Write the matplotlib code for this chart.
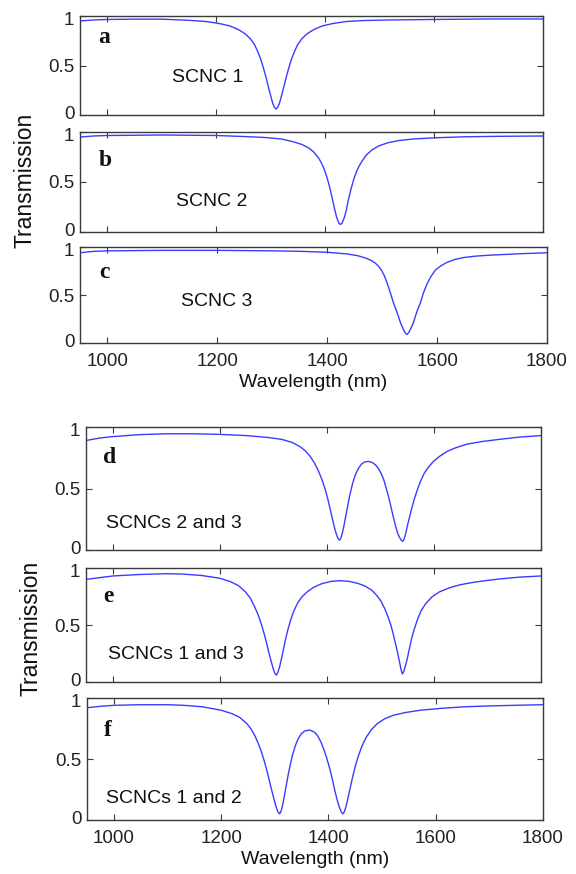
import matplotlib
matplotlib.use("Agg")
import matplotlib.pyplot as plt
from matplotlib.transforms import ScaledTranslation

plt.rcParams['font.family'] = ['Liberation Sans', 'DejaVu Sans']

# ---------------- data ----------------
wl_a = [950, 975, 1000, 1050, 1100, 1145, 1180, 1205, 1225, 1240, 1252, 1262, 1270, 1276, 1282,
        1287, 1292, 1296, 1300, 1304, 1307, 1310, 1313, 1316, 1320, 1324, 1328, 1333, 1338, 1344,
        1350, 1358, 1368, 1380, 1395, 1415, 1440, 1475, 1520, 1600, 1700, 1800]
tr_a = [0.95, 0.96, 0.965, 0.968, 0.968, 0.958, 0.945, 0.925, 0.90, 0.865, 0.825, 0.775, 0.715, 0.645, 0.56,
        0.47, 0.37, 0.28, 0.195, 0.115, 0.078, 0.06, 0.078, 0.115, 0.195, 0.28, 0.37, 0.47, 0.56, 0.645,
        0.715, 0.775, 0.825, 0.865, 0.90, 0.925, 0.945, 0.955, 0.96, 0.965, 0.97, 0.97]

wl_b = [950, 975, 1000, 1100, 1200, 1250, 1290, 1320, 1340, 1358, 1370, 1380, 1388, 1393, 1398,
        1403, 1408, 1413, 1417, 1421, 1425, 1428, 1431, 1435, 1439, 1443, 1448, 1453, 1458, 1463,
        1468, 1476, 1486, 1498, 1516, 1536, 1566, 1606, 1656, 1720, 1800]
tr_b = [0.95, 0.96, 0.965, 0.97, 0.965, 0.955, 0.945, 0.93, 0.905, 0.874, 0.84, 0.795, 0.74, 0.693, 0.632,
        0.554, 0.456, 0.339, 0.24, 0.15, 0.09, 0.075, 0.087, 0.14, 0.22, 0.33, 0.44, 0.535, 0.61, 0.665,
        0.711, 0.771, 0.821, 0.86, 0.894, 0.915, 0.932, 0.943, 0.952, 0.957, 0.96]

wl_c = [950, 975, 1000, 1100, 1200, 1300, 1350, 1400, 1436, 1455, 1470, 1480, 1488, 1494, 1499,
        1504, 1509, 1515, 1521, 1526, 1530, 1534, 1538, 1541, 1543, 1545, 1547, 1549, 1552, 1556,
        1560, 1564, 1569, 1575, 1582, 1589, 1597, 1607, 1618, 1632, 1648, 1670, 1697, 1751, 1800]
tr_c = [0.94, 0.955, 0.96, 0.965, 0.965, 0.96, 0.955, 0.945, 0.928, 0.91, 0.885, 0.86, 0.83, 0.795, 0.755,
        0.70, 0.625, 0.52, 0.41, 0.335, 0.27, 0.20, 0.15, 0.115, 0.10, 0.09, 0.10, 0.115, 0.15, 0.20,
        0.27, 0.34, 0.41, 0.52, 0.62, 0.695, 0.76, 0.805, 0.84, 0.87, 0.89, 0.905, 0.915, 0.93, 0.94]

wl_d = [950, 975, 1000, 1050, 1100, 1150, 1200, 1250, 1290, 1315, 1335, 1350, 1360, 1369, 1377,
        1384, 1391, 1397, 1402, 1406, 1410, 1414, 1418, 1421, 1423.6, 1426, 1429, 1432, 1435, 1439,
        1443, 1448, 1453, 1459, 1465, 1471, 1477.6, 1484, 1490, 1496, 1501, 1506, 1511, 1516, 1520,
        1524, 1528, 1532, 1536, 1539, 1541.6, 1544, 1547, 1550, 1554, 1558, 1563, 1569, 1575, 1582,
        1590, 1599, 1610, 1624, 1640, 1661, 1690, 1723, 1760, 1800]
tr_d = [0.89, 0.91, 0.922, 0.938, 0.945, 0.945, 0.94, 0.93, 0.915, 0.90, 0.875, 0.84, 0.805, 0.76, 0.705,
        0.645, 0.57, 0.49, 0.41, 0.335, 0.26, 0.185, 0.125, 0.09, 0.08, 0.095, 0.14, 0.20, 0.27, 0.36,
        0.45, 0.54, 0.61, 0.665, 0.70, 0.716, 0.72, 0.713, 0.695, 0.665, 0.625, 0.575, 0.50, 0.42, 0.345,
        0.27, 0.20, 0.14, 0.10, 0.08, 0.07, 0.085, 0.13, 0.19, 0.26, 0.33, 0.41, 0.49, 0.56, 0.625,
        0.675, 0.72, 0.76, 0.80, 0.83, 0.86, 0.882, 0.90, 0.918, 0.93]

wl_e = [950, 975, 1000, 1050, 1100, 1130, 1165, 1200, 1220, 1235, 1248, 1257, 1265, 1272, 1278,
        1283, 1288, 1292, 1296, 1299.5, 1302.5, 1305.5, 1308.5, 1311.5, 1315, 1319, 1323, 1327.5, 1332, 1338,
        1345, 1353, 1363, 1375, 1390, 1407, 1424.5, 1442, 1458, 1472, 1484, 1493, 1501, 1508, 1514,
        1519.5, 1524, 1528, 1532, 1535.5, 1538.5, 1541, 1543.5, 1546.5, 1550, 1554, 1558, 1563, 1569, 1576,
        1585, 1596, 1610, 1628, 1648, 1672, 1698, 1725, 1760, 1800]
tr_e = [0.90, 0.915, 0.93, 0.943, 0.95, 0.947, 0.935, 0.91, 0.88, 0.845, 0.79, 0.735, 0.66, 0.585, 0.50,
        0.42, 0.33, 0.25, 0.18, 0.12, 0.08, 0.06, 0.085, 0.13, 0.20, 0.29, 0.38, 0.465, 0.54, 0.62,
        0.69, 0.745, 0.79, 0.83, 0.862, 0.882, 0.889, 0.882, 0.865, 0.84, 0.805, 0.76, 0.71, 0.645, 0.575,
        0.50, 0.42, 0.34, 0.26, 0.18, 0.11, 0.07, 0.09, 0.14, 0.20, 0.29, 0.375, 0.46, 0.545, 0.625,
        0.69, 0.745, 0.79, 0.825, 0.852, 0.873, 0.89, 0.905, 0.92, 0.93]

wl_f = [950, 975, 1000, 1050, 1100, 1130, 1165, 1200, 1220, 1235, 1248, 1256, 1263, 1269, 1275,
        1280, 1285, 1289.5, 1294, 1298, 1302, 1305.5, 1309, 1312, 1315, 1318, 1321.5, 1325, 1329, 1333,
        1338, 1343, 1349, 1356, 1365.4, 1374, 1380, 1386, 1391, 1396, 1400, 1404, 1408, 1412, 1416,
        1420, 1424, 1427, 1430, 1433, 1436.5, 1440.5, 1445, 1450, 1455.5, 1462, 1470, 1480, 1491, 1505,
        1522, 1545, 1572, 1610, 1653, 1700, 1746, 1800]
tr_f = [0.92, 0.932, 0.94, 0.945, 0.945, 0.94, 0.928, 0.90, 0.872, 0.84, 0.79, 0.745, 0.69, 0.63, 0.56,
        0.49, 0.41, 0.33, 0.25, 0.18, 0.115, 0.07, 0.05, 0.075, 0.13, 0.20, 0.285, 0.37, 0.455, 0.53,
        0.605, 0.66, 0.705, 0.73, 0.737, 0.72, 0.69, 0.64, 0.585, 0.52, 0.46, 0.395, 0.32, 0.24, 0.17,
        0.11, 0.065, 0.05, 0.07, 0.115, 0.18, 0.26, 0.35, 0.44, 0.52, 0.60, 0.675, 0.74, 0.79, 0.83,
        0.86, 0.882, 0.90, 0.915, 0.928, 0.935, 0.94, 0.945]

panel_letters = ['a', 'b', 'c', 'd', 'e', 'f']
panel_names = ['SCNC 1', 'SCNC 2', 'SCNC 3', 'SCNCs 2 and 3', 'SCNCs 1 and 3', 'SCNCs 1 and 2']
xticks = [1000, 1200, 1400, 1600, 1800]
yticks = [0, 0.5, 1]
ytick_labels = ['0', '0.5', '1']
x_label = 'Wavelength (nm)'
y_label = 'Transmission'

# ---------------- layout ----------------
W, H = 576, 874
fig = plt.figure(figsize=(W / 100, H / 100), dpi=100)


def rect(l, r, t, b):
    return [l / W, 1 - b / H, (r - l) / W, (b - t) / H]


rects = [rect(80, 543, 16, 115), rect(80, 543, 132, 232), rect(80, 547, 247, 343),
         rect(86, 541, 427, 550), rect(86, 541, 568, 682), rect(87, 543, 698, 820)]
letter_pos = [(0.040, 0.78), (0.041, 0.72), (0.041, 0.73), (0.038, 0.75), (0.038, 0.75), (0.036, 0.73)]
name_pos = [(0.199, 0.38), (0.207, 0.30), (0.216, 0.43), (0.044, 0.217), (0.048, 0.237), (0.042, 0.175)]
data = [(wl_a, tr_a), (wl_b, tr_b), (wl_c, tr_c), (wl_d, tr_d), (wl_e, tr_e), (wl_f, tr_f)]

line_color = '#3b3bff'
spine_color = '#3a3a3a'
axes = []
for i in range(6):
    ax = fig.add_axes(rects[i])
    x, y = data[i]
    ax.plot(x, y, color=line_color, lw=1.0)
    ax.set_xlim(950, 1800)
    ax.set_ylim(0, 1)
    ax.set_xticks(xticks)
    ax.set_yticks(yticks)
    ax.set_yticklabels(ytick_labels)
    ax.tick_params(direction='in', top=True, right=True, length=4, width=0.8,
                   labelsize=13.5, colors=spine_color, labelcolor='#222222')
    ax.tick_params(axis='y', pad=4)
    ax.tick_params(axis='x', pad=7)
    for s in ax.spines.values():
        s.set_color(spine_color)
        s.set_linewidth(1.0)
    if i not in (2, 5):
        ax.set_xticklabels([])
    # MATLAB-like nudging of the end labels (0 slightly up, 1 slightly down)
    ylabels = ax.get_yticklabels()
    ylabels[0].set_transform(ylabels[0].get_transform() + ScaledTranslation(0, 2 / 72, fig.dpi_scale_trans))
    ylabels[-1].set_transform(ylabels[-1].get_transform() + ScaledTranslation(0, -1.5 / 72, fig.dpi_scale_trans))
    ax.text(letter_pos[i][0], letter_pos[i][1], panel_letters[i], transform=ax.transAxes,
            family='Liberation Serif', fontweight='bold', fontsize=17, ha='left', va='center',
            color='#111111')
    ax.text(name_pos[i][0], name_pos[i][1], panel_names[i], transform=ax.transAxes,
            fontsize=14, ha='left', va='center', color='#111111')
    axes.append(ax)

axes[2].set_xlabel(x_label, fontsize=14, labelpad=3, color='#111111')
axes[5].set_xlabel(x_label, fontsize=14, labelpad=3, color='#111111')

fig.text(25 / W, 1 - 180 / H, y_label, rotation=90, fontsize=16.5, ha='center', va='center',
         color='#111111')
fig.text(31 / W, 1 - 628 / H, y_label, rotation=90, fontsize=16.5, ha='center', va='center',
         color='#111111')

fig.savefig('out.png', dpi=100)
